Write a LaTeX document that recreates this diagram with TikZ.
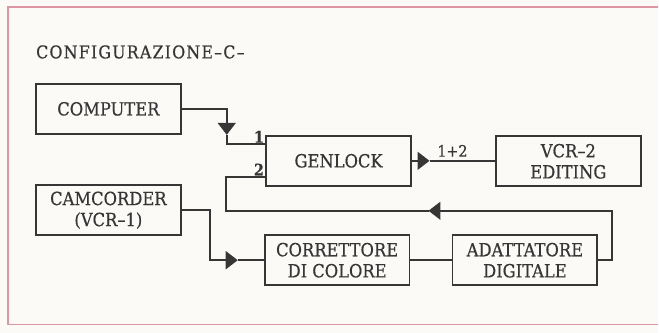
\documentclass[tikz,border=0pt]{standalone}
\usepackage{fontspec}
\setmainfont{DejaVu Serif}[FakeStretch=0.9, FakeBold=0.5]
\usetikzlibrary{arrows.meta,calc}

\definecolor{paper}{RGB}{251,250,246}
\definecolor{frame}{RGB}{222,150,165}
\definecolor{ink}{RGB}{55,53,53}

\begin{document}
\begin{tikzpicture}[
    x=0.03cm, y=-0.03cm,
    font=\fontsize{15.5}{18}\selectfont,
    box/.style={draw=ink, line width=1.5pt, align=center, minimum width=4.35cm, minimum height=1.5cm, inner sep=0pt, text=ink},
    wire/.style={draw=ink, line width=1.5pt},
    arrow/.style={wire, -{Triangle[length=3.6mm, width=5.4mm]}},
    pin/.style={font=\fontsize{13.5}{15}\selectfont\bfseries, text=ink, inner sep=1pt}
]
% paper and frame
\fill[paper] (0,0) rectangle (659,333);
\draw[frame, line width=1.3pt] (659,7) -- (8,7) -- (8,325) -- (659,325);

% title
\node[anchor=west, text=ink, inner sep=0pt, font=\fontsize{15}{18}\selectfont\addfontfeatures{LetterSpace=7}] (title) at (36,52) {CONFIGURAZIONE--C--};

% units
\node[box] (comp) at (108.5,109) {COMPUTER};
\node[box] (cam) at (108.5,210.5) {CAMCORDER\\(VCR--1)};
\node[box] (gen) at (339,161) {GENLOCK};
\node[box] (vcr) at (569,161.5) {VCR--2\\EDITING};
\node[box] (corr) at (337.5,260.5) {CORRETTORE\\DI COLORE};
\node[box] (ada) at (525.5,260.5) {ADATTATORE\\DIGITALE};

% bends and arrow tips
\coordinate (in1) at ($(gen.north west)+(0,9)$);
\coordinate (in2) at ($(gen.south west)+(0,-10)$);
\coordinate (tip1) at (227,135);
\coordinate (tip2) at (429,211);
\coordinate (tip3) at (430,161);
\coordinate (tip4) at (238,260.5);
\coordinate (loop) at (613,211);
\coordinate (bend) at (226,211);
\coordinate (drop) at (210,260.5);

% computer -> genlock 1
\draw[arrow] (comp.east) -| (tip1);
\draw[wire] (tip1) |- (in1);
\node[pin, anchor=south east] (p1) at (in1) {1};

% adattatore -> genlock 2
\draw[arrow] (ada.east) -| (loop) -- (tip2);
\draw[wire] (tip2) -- (bend) |- (in2);
\node[pin, anchor=south east] (p2) at (in2) {2};

% genlock -> vcr-2
\draw[arrow] (gen.east) -- (tip3);
\draw[wire] (tip3) -- (tip3 -| vcr.west);
\node[pin, font=\fontsize{13.5}{15}\selectfont] (sum) at (453,151) {1+2};

% camcorder -> correttore -> adattatore
\draw[arrow] (cam.east) -| (drop) -- (tip4);
\draw[wire] (tip4) -- (corr.west);
\draw[wire] (corr.east) -- (ada.west);
\end{tikzpicture}
\end{document}
